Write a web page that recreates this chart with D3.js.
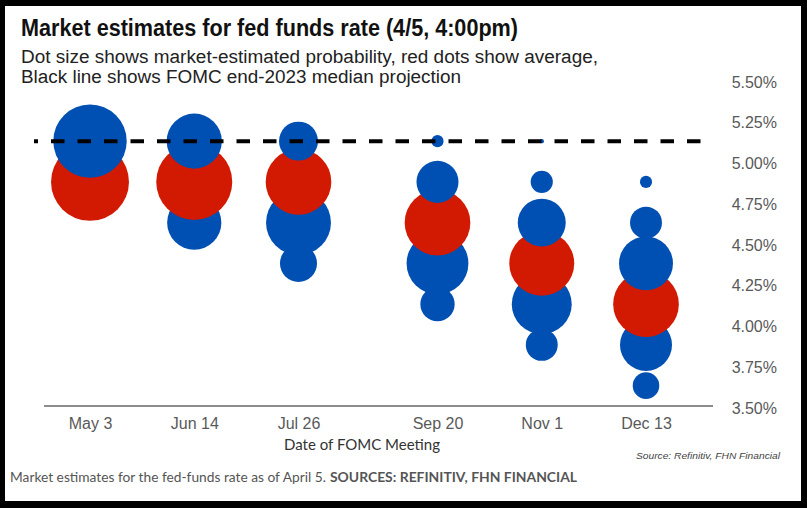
<!DOCTYPE html>
<html><head><meta charset="utf-8">
<script src="https://cdn.jsdelivr.net/npm/d3@7"></script>
<style>html,body{margin:0;padding:0;background:#000;} svg{display:block}</style>
</head><body><svg id="c" width="807" height="508"></svg>
<script>
// ---- data ----
const meetingDates = ["2023-05-03","2023-06-14","2023-07-26","2023-09-20","2023-11-01","2023-12-13"];
const meetingLabels = ["May 3","Jun 14","Jul 26","Sep 20","Nov 1","Dec 13"];
const rateLevels = [5.125, 4.875, 4.625, 4.375, 4.125, 3.875, 3.625];
// market-estimated probability (%) of each rate level, per meeting
const probMay3  = [55,   45,   0,    0,    0,    0,    0];
const probJun14 = [31,   39,   30,   0,    0,    0,    0];
const probJul26 = [15.5, 27.5, 43,   14,   0,    0,    0];
const probSep20 = [1.5,  18,   29.5, 39,   12,   0,    0];
const probNov1  = [0.2,  5,    23.5, 24,   36.7, 10.4, 0];
const probDec13 = [0,    1.5,  10.4, 29.7, 23.6, 27.6, 7.2];
const probByMeeting = [probMay3, probJun14, probJul26, probSep20, probNov1, probDec13];
// average (red dot) rate level and its weight
const avgRate   = [4.875, 4.875, 4.875, 4.625, 4.375, 4.125];
const avgWeight = [62, 59, 44, 44, 43, 44];
const fomcMedian = 5.125;
const yTicks = [3.5, 3.75, 4.0, 4.25, 4.5, 4.75, 5.0, 5.25, 5.5];

// ---- setup ----
const svg = d3.select("#c");
const W = 807, H = 508;
svg.append("rect").attr("x",0).attr("y",0).attr("width",W).attr("height",H).attr("fill","#000");
svg.append("rect").attr("x",5).attr("y",6).attr("width",796).attr("height",495).attr("fill","#fff");

const parse = d3.timeParse("%Y-%m-%d");
const dates = meetingDates.map(parse);
const x = d3.scaleTime().domain([dates[0], dates[dates.length-1]]).range([90, 646]);
const y = d3.scaleLinear().domain([3.5, 5.5]).range([406, 80]);
const r = d3.scaleSqrt().domain([0, 100]).range([0, 49.5]);

const BLUE = "#0050b4", RED = "#d21a02";

// ---- title ----
svg.append("text").attr("x",21).attr("y",36)
  .attr("font-family","'Liberation Sans Narrow','Liberation Sans',Arial,sans-serif")
  .attr("font-weight","bold").attr("font-size",23).attr("fill","#111")
  .attr("textLength",497).attr("lengthAdjust","spacingAndGlyphs")
  .text("Market estimates for fed funds rate (4/5, 4:00pm)");
svg.append("text").attr("x",21).attr("y",63)
  .attr("font-family","'Liberation Sans',Arial,sans-serif").attr("font-size",18).attr("fill","#222")
  .attr("textLength",577).attr("lengthAdjust","spacingAndGlyphs")
  .text("Dot size shows market-estimated probability,  red dots show average,");
svg.append("text").attr("x",21).attr("y",83)
  .attr("font-family","'Liberation Sans',Arial,sans-serif").attr("font-size",18).attr("fill","#222")
  .attr("textLength",440).attr("lengthAdjust","spacingAndGlyphs")
  .text("Black line shows FOMC end-2023 median projection");

// ---- dots ----
const items = [];
probByMeeting.forEach((probs, i) => {
  probs.forEach((p, j) => {
    if (p > 0) items.push({date: dates[i], rate: rateLevels[j], w: p, color: BLUE, key: rateLevels[j]});
  });
  items.push({date: dates[i], rate: avgRate[i], w: avgWeight[i], color: RED, key: avgRate[i] + 0.001});
});
items.sort((a, b) => a.key - b.key);
svg.append("g").selectAll("circle").data(items).join("circle")
  .attr("cx", d => x(d.date)).attr("cy", d => y(d.rate))
  .attr("r", d => r(d.w)).attr("fill", d => d.color);

// ---- FOMC median dashed line ----
svg.append("line").attr("x1",34).attr("x2",713)
  .attr("y1",y(fomcMedian)).attr("y2",y(fomcMedian))
  .attr("stroke","#000").attr("stroke-width",4)
  .attr("stroke-dasharray","13.5,13").attr("stroke-dashoffset",9.5);

// ---- axes ----
svg.append("line").attr("x1",44).attr("x2",713).attr("y1",y(3.5)).attr("y2",y(3.5))
  .attr("stroke","#8c8c8c").attr("stroke-width",2);

const xAxis = d3.axisBottom(x).tickValues(dates)
  .tickFormat((d, i) => meetingLabels[i]).tickSize(0).tickPadding(12);
const gx = svg.append("g").attr("transform",`translate(0,${y(3.5)})`).call(xAxis);
gx.select(".domain").remove();
gx.selectAll("text").attr("font-family","'Liberation Sans',Arial,sans-serif")
  .attr("font-size",16).attr("fill","#595959");

const yAxis = d3.axisRight(y).tickValues(yTicks)
  .tickFormat(d => d3.format(".2f")(d) + "%").tickSize(0).tickPadding(0);
const gy = svg.append("g").attr("transform","translate(777,0)").call(yAxis);
gy.select(".domain").remove();
gy.selectAll("text").attr("text-anchor","end").attr("x",0).attr("dy","0.45em")
  .attr("font-family","'Liberation Sans',Arial,sans-serif")
  .attr("font-size",16).attr("fill","#595959");

svg.append("text").attr("x",362).attr("y",450).attr("text-anchor","middle")
  .attr("font-family","Lato,'Open Sans',sans-serif").attr("font-size",15).attr("fill","#333")
  .text("Date of FOMC Meeting");
svg.append("text").attr("x",636).attr("y",459)
  .attr("font-family","'Liberation Sans',Arial,sans-serif").attr("font-style","italic")
  .attr("font-size",9.5).attr("fill","#444")
  .attr("textLength",144).attr("lengthAdjust","spacingAndGlyphs")
  .text("Source:  Refinitiv, FHN Financial");

// ---- caption ----
const cap = svg.append("text").attr("y",482)
  .attr("font-family","Lato,'Open Sans',sans-serif").attr("font-size",13.5).attr("fill","#555");
cap.append("tspan").attr("x",10)
  .attr("textLength",316).attr("lengthAdjust","spacingAndGlyphs")
  .text("Market estimates for the fed-funds rate as of April 5.");
cap.append("tspan").attr("x",330).attr("font-weight","bold")
  .attr("textLength",247).attr("lengthAdjust","spacingAndGlyphs")
  .text("SOURCES: REFINITIV, FHN FINANCIAL");
</script></body></html>
